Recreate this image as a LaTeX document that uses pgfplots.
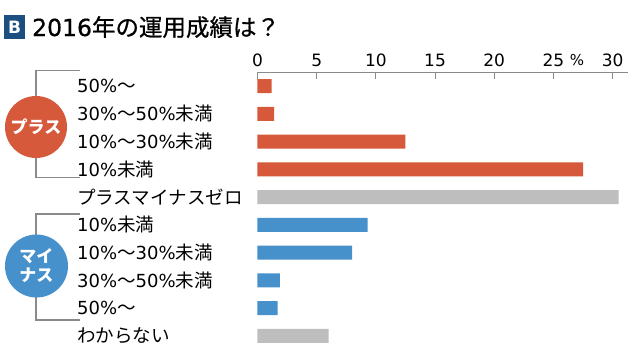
\documentclass[border=0pt]{standalone}
\usepackage{fontspec}
\setmainfont{DejaVu Sans}
\newfontfamily\jp{Noto Sans CJK JP}
\newfontfamily\jpl[Scale=1.03]{Noto Sans CJK JP}
\newfontfamily\jpt[FakeBold=0.8]{Noto Sans CJK JP}
\newfontfamily\latt[FakeBold=0.6]{DejaVu Sans}
\usepackage{pgfplots}
\pgfplotsset{compat=1.18}
\definecolor{plusc}{HTML}{D5593A}
\definecolor{minusc}{HTML}{4690CB}
\definecolor{grayc}{HTML}{BEBEBE}
\definecolor{linec}{HTML}{8A8A8A}
\definecolor{navyc}{HTML}{1D4E80}
\newcommand{\J}[1]{{\jpl #1}}
\begin{document}
\begin{tikzpicture}[x=1pt,y=1pt]
\useasboundingbox (0,0) rectangle (630,-364);
\fill[navyc] (4,-15) rectangle (25,-39);
\node[white, font=\fontsize{17}{17}\selectfont\bfseries, inner sep=0] at (14.5,-27) {B};
\node[anchor=base west, font=\fontsize{23.5}{23.5}\selectfont, inner sep=0] at (32,-36) {{\latt 2016}{\jpt 年の運用成績は？}};
\draw[linec, line width=1.1pt] (80,-70.7) -| (36,-177.3) -- (80,-177.3);
\draw[linec, line width=1.1pt] (80,-214) -| (36,-320) -- (80,-320);
\fill[plusc] (36,-127) circle (31);
\node[white, font=\fontsize{17}{17}\selectfont\jp\bfseries] at (36,-127) {プラス};
\fill[minusc] (36.5,-266) circle (31.5);
\node[white, font=\fontsize{17}{19}\selectfont\jp\bfseries, align=center] at (36.5,-266) {マイ\\ナス};
\node[anchor=base, font=\fontsize{15}{15}\selectfont, inner sep=0] at (577,-65) {\%};
\begin{axis}[at={(257.5pt,-72.7pt)}, anchor=north west, scale only axis,
  width=370.5pt, height=277pt,
  xmin=0, xmax=31.3, ymin=-0.48, ymax=9.5, y dir=reverse,
  axis x line=top, axis y line=left,
  x axis line style={-, draw=linec, line width=1.1pt},
  y axis line style={draw=none},
  xtick={0,5,...,30},
  /pgf/number format/assume math mode=true,
  xticklabel style={font=\fontsize{17}{17}\selectfont, anchor=base, inner sep=0, yshift=6.7pt},
  x tick style={draw=linec, line width=1.1pt},
  tick align=inside, major tick length=6pt,
  ytick={0,...,9},
  y tick style={draw=none},
  yticklabels={50\%\J{〜},30\%\J{〜}50\%\J{未満},10\%\J{〜}30\%\J{未満},10\%\J{未満},\J{プラスマイナスゼロ},10\%\J{未満},10\%\J{〜}30\%\J{未満},30\%\J{〜}50\%\J{未満},50\%\J{〜},\J{わからない}},
  yticklabel style={anchor=west, xshift=-174.5pt, inner sep=0, font=\fontsize{18}{18}\selectfont},
  xbar, bar width=14pt, bar shift=0pt,
  clip=false,
]
\addplot[draw=none, fill=plusc] coordinates {(1.2,0) (1.4,1) (12.5,2) (27.5,3)};
\addplot[draw=none, fill=grayc] coordinates {(30.5,4) (6.0,9)};
\addplot[draw=none, fill=minusc] coordinates {(9.3,5) (8.0,6) (1.9,7) (1.7,8)};
\end{axis}
\end{tikzpicture}
\end{document}
